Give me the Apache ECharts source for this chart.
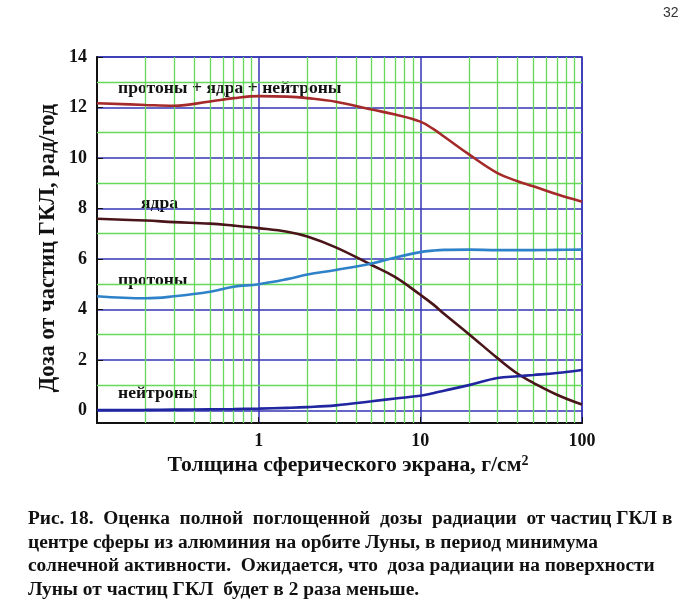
<!DOCTYPE html>
<html><head><meta charset="utf-8">
<script src="https://cdn.jsdelivr.net/npm/echarts@6/dist/echarts.min.js"></script>
<style>html,body{margin:0;padding:0;background:#fff}#c{width:700px;height:605px}</style>
</head><body><div id="c"></div>
<script>
// thickness, g/cm^2
const thickness   = [0.1, 0.2, 0.3, 0.5, 0.7, 1, 1.5, 2, 3, 5, 7, 10, 12, 14, 20, 30, 40, 50, 70, 100];
const totalDose   = [12.17, 12.1, 12.07, 12.24, 12.37, 12.45, 12.43, 12.37, 12.23, 11.92, 11.72, 11.44, 11.15, 10.85, 10.14, 9.4, 9.08, 8.88, 8.56, 8.27];
const nucleiDose  = [7.59, 7.52, 7.46, 7.4, 7.32, 7.22, 7.08, 6.89, 6.46, 5.76, 5.28, 4.58, 4.2, 3.83, 3.02, 2.07, 1.45, 1.09, 0.62, 0.23];
const protonDose  = [4.52, 4.44, 4.52, 4.7, 4.9, 5.0, 5.2, 5.38, 5.56, 5.82, 6.06, 6.27, 6.33, 6.36, 6.37, 6.35, 6.35, 6.35, 6.36, 6.37];
const neutronDose = [0.01, 0.02, 0.03, 0.04, 0.05, 0.07, 0.1, 0.13, 0.2, 0.36, 0.47, 0.58, 0.68, 0.78, 1.0, 1.28, 1.35, 1.4, 1.48, 1.6];
const minorX = [0.2,0.3,0.4,0.5,0.6,0.7,0.8,0.9,2,3,4,5,6,7,8,9,20,30,40,50,60,70,80,90];
const oddY = [1,3,5,7,9,11,13];
const seriesNames = ['протоны + ядра + нейтроны', 'ядра', 'протоны', 'нейтроны'];
const captionLines = [
  'Рис. 18.  Оценка  полной  поглощенной  дозы  радиации  от частиц ГКЛ в',
  'центре сферы из алюминия на орбите Луны, в период минимума',
  'солнечной активности.  Ожидается, что  доза радиации на поверхности',
  'Луны от частиц ГКЛ  будет в 2 раза меньше.'
];

const SERIF = '"Liberation Serif", "DejaVu Serif", serif';
const GREEN = '#66d85a', BLUE = '#3434b4';
const pair = arr => thickness.map((x, i) => [x, arr[i]]);

const chart = echarts.init(document.getElementById('c'), null, {renderer: 'canvas'});
const lineSeries = (name, arr, color) => ({
  name, type: 'line', data: pair(arr), smooth: 0.4, showSymbol: false, symbol: 'none',
  lineStyle: {color, width: 2.6}, z: 5
});
const lblStyle = {font: 'bold 17.6px ' + SERIF, fill: '#111'};
const graphics = [
  {type: 'text', left: 663, top: 6, style: {text: '32', font: '14px "Liberation Sans", sans-serif', fill: '#333'}},
  {type: 'text', x: 118, y: 88, style: Object.assign({text: seriesNames[0], verticalAlign: 'middle'}, lblStyle)},
  {type: 'text', x: 141, y: 203, style: Object.assign({text: seriesNames[1], verticalAlign: 'middle'}, lblStyle)},
  {type: 'text', x: 118, y: 280, style: Object.assign({text: seriesNames[2], verticalAlign: 'middle'}, lblStyle)},
  {type: 'text', x: 118, y: 393, style: Object.assign({text: seriesNames[3], verticalAlign: 'middle'}, lblStyle)},
  {type: 'text', x: 348, y: 465, style: {
    text: '{a|Толщина сферического экрана, г/см}{s|2}', align: 'center', verticalAlign: 'middle',
    rich: {a: {font: 'bold 21.7px ' + SERIF, fill: '#111'}, s: {font: 'bold 14px ' + SERIF, fill: '#111', verticalAlign: 'top', padding: [0,0,8,0]}}
  }},
  {type: 'text', x: 48, y: 248, rotation: Math.PI / 2, style: {
    text: 'Доза от частиц ГКЛ, рад/год', align: 'center', verticalAlign: 'middle',
    font: 'bold 22.5px ' + SERIF, fill: '#111'
  }}
];
captionLines.forEach((t, i) => graphics.push({
  type: 'text', x: 28, y: 519 + i * 23.5,
  style: {text: t, verticalAlign: 'middle', font: 'bold 19.4px ' + SERIF, fill: '#111'}
}));

chart.setOption({
  animation: false,
  backgroundColor: '#fff',
  grid: {left: 97, top: 57, width: 485, height: 366, show: true, borderColor: BLUE, borderWidth: 1.5, backgroundColor: 'transparent'},
  xAxis: {
    type: 'log', logBase: 10, min: 0.1, max: 100,
    axisLine: {onZero: false, lineStyle: {color: '#111', width: 2}},
    axisTick: {inside: true, length: 6, lineStyle: {color: '#111'}},
    axisLabel: {margin: 9, color: '#111', fontWeight: 'bold', fontSize: 18, fontFamily: SERIF,
      formatter: v => (v >= 1 ? String(Math.round(v)) : '')},
    splitLine: {show: true, lineStyle: {color: BLUE, width: 1.5}}
  },
  yAxis: {
    type: 'value', min: -0.5, max: 14, splitNumber: 7,
    axisLine: {show: true, onZero: false, lineStyle: {color: '#111', width: 2}},
    axisTick: {show: true, inside: true, length: 6, lineStyle: {color: '#111'}},
    axisLabel: {margin: 10, color: '#111', fontWeight: 'bold', fontSize: 18, fontFamily: SERIF,
      formatter: v => (v >= 0 && Math.abs(v % 2) < 1e-9 ? String(v) : '')},
    splitLine: {show: true, lineStyle: {color: BLUE, width: 1.5}}
  },
  series: [
    {
      type: 'line', data: [], z: 1, silent: true,
      markLine: {
        silent: true, symbol: 'none', animation: false,
        label: {show: false},
        lineStyle: {color: GREEN, width: 1.3, type: 'solid'},
        data: minorX.map(x => ({xAxis: x})).concat(oddY.map(y => ({yAxis: y})))
      }
    },
    lineSeries(seriesNames[0], totalDose, '#a52a2a'),
    lineSeries(seriesNames[1], nucleiDose, '#4a1518'),
    lineSeries(seriesNames[2], protonDose, '#2f82c8'),
    lineSeries(seriesNames[3], neutronDose, '#2026a0')
  ],
  graphic: graphics
});
</script></body></html>
